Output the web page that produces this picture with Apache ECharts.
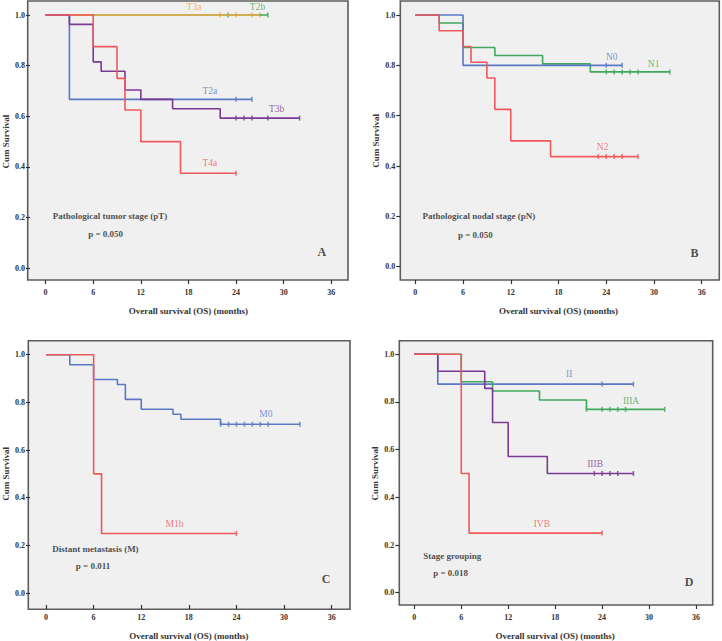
<!DOCTYPE html>
<html><head><meta charset="utf-8">
<script src="https://cdn.jsdelivr.net/npm/echarts@6/dist/echarts.min.js"></script>
<style>html,body{margin:0;padding:0;background:#fff}#c{width:722px;height:641px}</style>
</head><body><div id="c"></div>
<script>
// ---------- DATA ----------
const xTickStep = 6, xMaxTick = 36;     // tick labels 0, 6, ... 36
const yTickStep = 0.2, yMaxTick = 1.0;  // tick labels 0.0 ... 1.0

// Panel A: pathological tumor stage
const t3aTimes = [0, 27];            const t3aSurv = [1, 1];            const t3aCensor = [22, 24, 26, 27];
const t2bTimes = [0, 28];            const t2bSurv = [1, 1];            const t2bCensor = [23, 28];
const t2aTimes = [0, 3, 26];         const t2aSurv = [1, 0.667, 0.667]; const t2aCensor = [24, 26];
const t3bTimes = [0, 3, 6, 7, 10, 12, 16, 22, 32];
const t3bSurv  = [1, 0.963, 0.815, 0.778, 0.704, 0.667, 0.630, 0.593, 0.593];
const t3bCensor = [24, 25, 26, 28, 32];
const t4aTimes = [0, 6, 9, 10, 12, 17, 24];
const t4aSurv  = [1, 0.875, 0.75, 0.625, 0.5, 0.375, 0.375];
const t4aCensor = [24];

// Panel B: pathological nodal stage
const n0Times = [0, 6, 26];          const n0Surv = [1, 0.8, 0.8];      const n0Censor = [24, 26];
const n1Times = [0, 3, 6, 10, 16, 22, 32];
const n1Surv  = [1, 0.968, 0.871, 0.839, 0.806, 0.774, 0.774];
const n1Censor = [24, 25, 26, 27, 28, 32];
const n2Times = [0, 3, 6, 7, 9, 10, 12, 17, 28];
const n2Surv  = [1, 0.9375, 0.875, 0.8125, 0.75, 0.625, 0.5, 0.4375, 0.4375];
const n2Censor = [23, 24, 25, 26, 28];

// Panel C: distant metastasis
const m0Times = [0, 3, 6, 9, 10, 12, 16, 17, 22, 32];
const m0Surv  = [1, 0.958, 0.896, 0.875, 0.8125, 0.771, 0.75, 0.729, 0.708, 0.708];
const m0Censor = [22, 23, 24, 25, 26, 27, 28, 32];
const m1bTimes = [0, 6, 7, 24];      const m1bSurv = [1, 0.5, 0.25, 0.25]; const m1bCensor = [24];

// Panel D: stage grouping
const iiTimes = [0, 3, 28];          const iiSurv = [1, 0.875, 0.875];  const iiCensor = [24, 28];
const iiiaTimes = [0, 6, 10, 16, 22, 32];
const iiiaSurv  = [1, 0.885, 0.846, 0.808, 0.769, 0.769];
const iiiaCensor = [22, 24, 25, 26, 27, 32];
const iiibTimes = [0, 3, 9, 10, 12, 17, 28];
const iiibSurv  = [1, 0.929, 0.857, 0.714, 0.571, 0.5, 0.5];
const iiibCensor = [23, 24, 25, 26, 28];
const ivbTimes = [0, 6, 7, 24];      const ivbSurv = [1, 0.5, 0.25, 0.25]; const ivbCensor = [24];

// ---------- STYLE / LAYOUT ----------
const C = { blue: '#5a78c6', red: '#f0585c', orange: '#f2a746', green: '#3fa85c', purple: '#7b3a92' };
const FONT = '"Liberation Serif", "Times New Roman", serif';

// frame = outer plot box; plot = area spanning 0..36 months and 0..1 survival
const panels = [
  { frame: { left: 27.7, top: 1, width: 320.3, height: 279 },
    plot: { left: 43.3, top: 15, width: 288, height: 253.3 }, yOff: 15.6, xOff: 11.7,
    curves: [
      { name: 'T2b', t: t2bTimes, s: t2bSurv, c: t2bCensor, color: C.green, lx: 26.7, ly: 1.033 },
      { name: 'T3a', t: t3aTimes, s: t3aSurv, c: t3aCensor, color: C.orange, lx: 18.7, ly: 1.033 },
      { name: 'T2a', t: t2aTimes, s: t2aSurv, c: t2aCensor, color: C.blue, lx: 20.7, ly: 0.70 },
      { name: 'T3b', t: t3bTimes, s: t3bSurv, c: t3bCensor, color: C.purple, lx: 29.1, ly: 0.63 },
      { name: 'T4a', t: t4aTimes, s: t4aSurv, c: t4aCensor, color: C.red, lx: 20.7, ly: 0.415 }
    ],
    title: 'Pathological tumor stage (pT)', tx: 0.84, ty: 0.205, p: 'p = 0.050', px: 5.3, py: 0.135,
    letter: 'A', lx: 34.8, ly: 0.065 },
  { frame: { left: 400.3, top: 1, width: 319, height: 279 },
    plot: { left: 415.3, top: 15, width: 286.4, height: 251.7 }, yOff: 15, xOff: 13.3,
    curves: [
      { name: 'N1', t: n1Times, s: n1Surv, c: n1Censor, color: C.green, lx: 29.96, ly: 0.805 },
      { name: 'N0', t: n0Times, s: n0Surv, c: n0Censor, color: C.blue, lx: 24.7, ly: 0.834 },
      { name: 'N2', t: n2Times, s: n2Surv, c: n2Censor, color: C.red, lx: 23.55, ly: 0.477 }
    ],
    title: 'Pathological nodal stage (pN)', tx: 0.84, ty: 0.20, p: 'p = 0.050', px: 5.3, py: 0.125,
    letter: 'B', lx: 35.1, ly: 0.053 },
  { frame: { left: 28.3, top: 340.7, width: 321.7, height: 268.6 },
    plot: { left: 44.3, top: 354.7, width: 287.4, height: 242.6 }, yOff: 16, xOff: 12,
    curves: [
      { name: 'M0', t: m0Times, s: m0Surv, c: m0Censor, color: C.blue, lx: 27.7, ly: 0.75 },
      { name: 'M1b', t: m1bTimes, s: m1bSurv, c: m1bCensor, color: C.red, lx: 16.2, ly: 0.29 }
    ],
    title: 'Distant metastasis (M)', tx: 0.71, ty: 0.185, p: 'p = 0.011', px: 3.7, py: 0.115,
    letter: 'C', lx: 35.3, ly: 0.058 },
  { frame: { left: 399.3, top: 340.7, width: 313.4, height: 264.3 },
    plot: { left: 414.3, top: 354.3, width: 281.7, height: 238.4 }, yOff: 15, xOff: 12.3,
    curves: [
      { name: 'II', t: iiTimes, s: iiSurv, c: iiCensor, color: C.blue, lx: 19.8, ly: 0.916 },
      { name: 'IIIA', t: iiiaTimes, s: iiiaSurv, c: iiiaCensor, color: C.green, lx: 27.7, ly: 0.804 },
      { name: 'IIIB', t: iiibTimes, s: iiibSurv, c: iiibCensor, color: C.purple, lx: 23.1, ly: 0.54 },
      { name: 'IVB', t: ivbTimes, s: ivbSurv, c: ivbCensor, color: C.red, lx: 16.3, ly: 0.29 }
    ],
    title: 'Stage grouping', tx: 1.07, ty: 0.154, p: 'p = 0.018', px: 2.35, py: 0.081,
    letter: 'D', lx: 35.1, ly: 0.046 }
];

function survAt(times, surv, t) {
  let v = surv[0];
  for (let i = 0; i < times.length; i++) if (times[i] <= t) v = surv[i];
  return v;
}

const hidden = { color: 'rgba(0,0,0,0)' };
const grids = [], xAxes = [], yAxes = [], series = [];
panels.forEach((p, i) => {
  const fi = 2 * i, di = 2 * i + 1;
  // frame grid with hidden axes
  grids.push(Object.assign({ show: true, backgroundColor: '#f0f0f0', borderColor: '#5c5c5c', borderWidth: 1.6, containLabel: false }, p.frame));
  xAxes.push({ type: 'value', gridIndex: fi, show: false, min: 0, max: 1 });
  yAxes.push({ type: 'value', gridIndex: fi, show: false, min: 0, max: 1 });
  // data grid
  grids.push(Object.assign({ show: false, containLabel: false }, p.plot));
  xAxes.push({
    type: 'value', gridIndex: di, min: 0, max: xMaxTick, interval: xTickStep, position: 'bottom', offset: p.xOff,
    name: 'Overall survival (OS) (months)', nameLocation: 'middle', nameGap: 26,
    nameTextStyle: { fontFamily: FONT, fontWeight: 'bold', fontSize: 9, color: '#333' },
    axisLine: { show: false, onZero: false }, splitLine: { show: false },
    axisTick: { show: true, length: 4, lineStyle: { color: '#333', width: 1.2 } },
    axisLabel: { margin: 8, fontFamily: FONT, fontWeight: 'bold', fontSize: 8, color: '#333' }
  });
  yAxes.push({
    type: 'value', gridIndex: di, min: 0, max: yMaxTick, interval: yTickStep, position: 'left', offset: p.yOff,
    name: 'Cum Survival', nameLocation: 'middle', nameGap: 20, nameRotate: 90,
    nameTextStyle: { fontFamily: FONT, fontWeight: 'bold', fontSize: 9, color: '#333' },
    axisLine: { show: false, onZero: false }, splitLine: { show: false },
    axisTick: { show: true, length: 4, lineStyle: { color: '#333', width: 1.2 } },
    axisLabel: { margin: 5, fontFamily: FONT, fontWeight: 'bold', fontSize: 8, color: '#333',
      formatter: v => v.toFixed(1) }
  });
  p.curves.forEach(cv => {
    series.push({
      type: 'line', xAxisIndex: di, yAxisIndex: di, step: 'end', showSymbol: false, silent: true, clip: false,
      lineStyle: { color: cv.color, width: 1.6 }, data: cv.t.map((t, k) => [t, cv.s[k]])
    });
  });
  p.curves.forEach(cv => {
    series.push({
      type: 'scatter', xAxisIndex: di, yAxisIndex: di, symbol: 'rect', symbolSize: [1.6, 5], silent: true, clip: false,
      itemStyle: { color: cv.color }, data: cv.c.map(t => [t, survAt(cv.t, cv.s, t)])
    });
    series.push({
      type: 'scatter', xAxisIndex: di, yAxisIndex: di, symbolSize: 1, silent: true, clip: false, itemStyle: hidden,
      label: { show: true, position: 'inside', formatter: cv.name, fontFamily: FONT, fontSize: 9.5, color: cv.color },
      data: [[cv.lx, cv.ly]]
    });
  });
  series.push({
    type: 'scatter', xAxisIndex: di, yAxisIndex: di, symbolSize: 1, silent: true, clip: false, itemStyle: hidden,
    label: { show: true, position: 'right', distance: 0, formatter: q => q.name,
      fontFamily: FONT, fontWeight: 'bold', fontSize: 9, color: '#222' },
    data: [{ name: p.title, value: [p.tx, p.ty] }, { name: p.p, value: [p.px, p.py] }]
  });
  series.push({
    type: 'scatter', xAxisIndex: di, yAxisIndex: di, symbolSize: 1, silent: true, clip: false, itemStyle: hidden,
    label: { show: true, position: 'inside', formatter: p.letter, fontFamily: FONT, fontWeight: 'bold', fontSize: 12, color: '#222' },
    data: [[p.lx, p.ly]]
  });
});

const chart = echarts.init(document.getElementById('c'), null, { renderer: 'svg' });
chart.setOption({ animation: false, backgroundColor: '#fff', grid: grids, xAxis: xAxes, yAxis: yAxes, series: series });
</script></body></html>
